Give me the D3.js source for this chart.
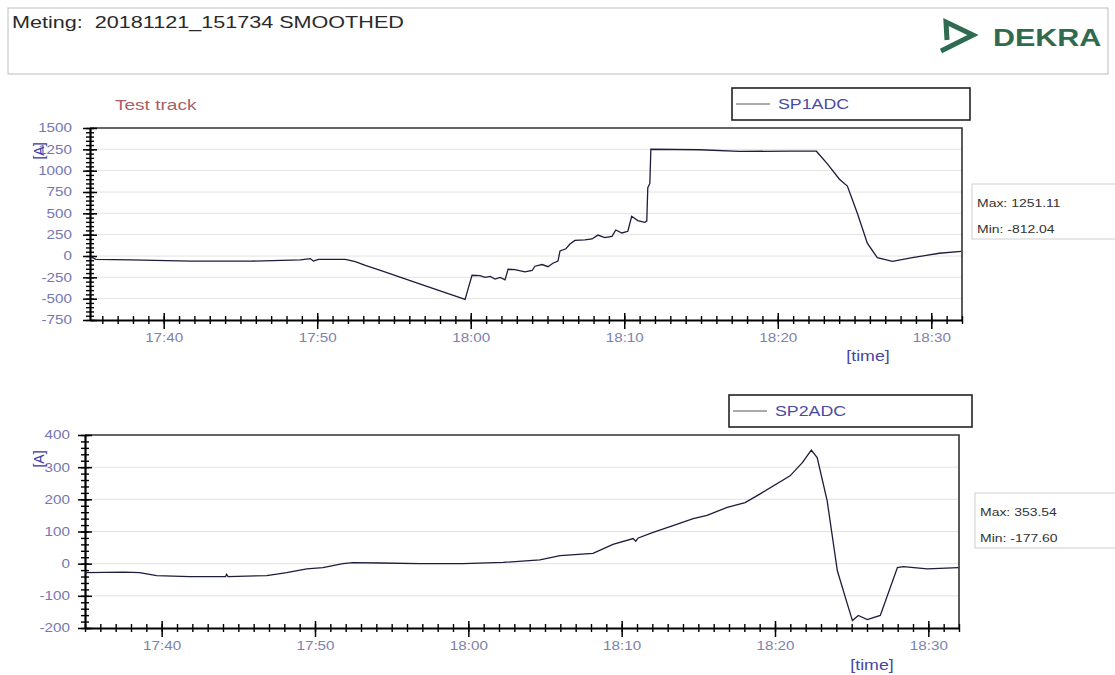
<!DOCTYPE html>
<html>
<head>
<meta charset="utf-8">
<script src="https://d3js.org/d3.v7.min.js"></script>
<style>
  body { margin: 0; background: #fff; }
  svg text { font-family: "Liberation Sans", Arial, sans-serif; white-space: pre; }
</style>
</head>
<body>
<div id="chart"></div>
<script>
  // time stamps and values
  const sp1Times = ["17:35:15","17:35:35","17:37:51","17:41:46","17:45:40","17:48:54","17:49:33","17:49:45","17:50:05",
    "17:51:23","17:51:50","17:52:29","17:53:08","17:54:07","17:56:43","17:59:38","17:59:50","18:00:05","18:00:36",
    "18:00:56","18:01:16","18:01:35","18:01:55","18:02:14","18:02:26","18:02:53","18:03:32","18:04:00","18:04:11",
    "18:04:39","18:05:02","18:05:21","18:05:41","18:05:49","18:06:12","18:06:28","18:06:47","18:07:26","18:07:54",
    "18:08:17","18:08:44","18:09:12","18:09:27","18:09:51","18:10:14","18:10:29","18:10:53","18:11:20","18:11:28",
    "18:11:32","18:11:40","18:11:44","18:14:55","18:17:31","18:20:46","18:22:31","18:23:14","18:24:01","18:24:32",
    "18:25:11","18:25:50","18:26:29","18:27:28","18:28:46","18:30:31","18:31:57"];
  const sp1Values = [-10, -40, -45, -60, -60, -45, -30, -60, -40,
    -40, -40, -65, -110, -168, -330, -508, -382, -226, -230,
    -250, -240, -270, -250, -280, -155, -160, -185, -170, -120,
    -100, -125, -85, -60, 60, 85, 140, 183, 190, 200,
    245, 215, 230, 305, 270, 290, 465, 415, 395, 410,
    800, 850, 1251, 1245, 1225, 1230, 1228, 1080, 900, 820,
    500, 150, -20, -62, -20, 32, 55];

  const sp2Times = ["17:35:00","17:37:35","17:38:34","17:39:40","17:41:50","17:44:10","17:44:14","17:44:20","17:46:51",
    "17:48:09","17:49:28","17:50:31","17:51:49","17:52:28","17:54:14","17:56:50","17:59:39","18:02:16","18:04:40",
    "18:05:59","18:08:08","18:09:26","18:10:45","18:10:55","18:11:05","18:12:03","18:13:21","18:14:40","18:15:34",
    "18:16:53","18:18:03","18:19:02","18:20:59","18:21:47","18:22:22","18:22:45","18:23:24","18:24:04","18:24:43",
    "18:25:03","18:25:26","18:26:01","18:26:52","18:27:59","18:28:22","18:29:56","18:31:58"];
  const sp2Values = [-28, -26, -28, -37, -40, -40, -33, -40, -37,
    -28, -16, -12, 0, 3, 2, 0, 0, 4, 12,
    25, 32, 60, 78, 70, 80, 97, 118, 140, 150,
    175, 190, 217, 273, 314, 353, 330, 196, -22, -125,
    -177, -161, -174, -161, -12, -9, -16, -12];

  const sp1YTicks = [-750, -500, -250, 0, 250, 500, 750, 1000, 1250, 1500];
  const sp2YTicks = [-200, -100, 0, 100, 200, 300, 400];
  const timeTicks = ["17:40:00", "17:50:00", "18:00:00", "18:10:00", "18:20:00", "18:30:00"];

  const parse = d3.timeParse("%H:%M:%S");
  const SX = 1.27; // the source picture is stretched horizontally

  const svg = d3.select("#chart").append("svg")
    .attr("width", 1115)
    .attr("height", 675);

  function txt(g, x, y, s, size, color, anchor, weight) {
    return g.append("text")
      .attr("transform", `translate(${x},${y}) scale(${SX},1)`)
      .attr("text-anchor", anchor || "start")
      .style("font-size", size + "px")
      .style("font-weight", weight || "normal")
      .style("fill", color)
      .text(s);
  }

  // header
  svg.append("rect")
    .attr("x", 8).attr("y", 8).attr("width", 1100).attr("height", 66)
    .attr("fill", "none").attr("stroke", "#bdbdbd");
  txt(svg, 12, 28, "Meting:  20181121_151734 SMOOTHED", 17, "#2a2a2a");
  svg.append("path")
    .attr("d", "M947,40 L946,22 L973,35 L941,51")
    .attr("fill", "none").attr("stroke", "#2f6b50").attr("stroke-width", 5)
    .attr("stroke-linejoin", "miter");
  txt(svg, 993, 46, "DEKRA", 24, "#2f6b50", "start", "bold");

  function drawPanel(cfg) {
    const x = d3.scaleTime().domain([parse(cfg.start), parse(cfg.end)]).range([cfg.x0, cfg.x1]);
    const y = d3.scaleLinear().domain([cfg.yTicks[0], cfg.yTicks[cfg.yTicks.length - 1]]).range([cfg.y1, cfg.y0]);
    const g = svg.append("g");

    // horizontal grid
    g.selectAll(".grid")
      .data(cfg.yTicks.slice(1, -1))
      .enter().append("line")
      .attr("x1", cfg.x0).attr("x2", cfg.x1)
      .attr("y1", d => y(d)).attr("y2", d => y(d))
      .attr("stroke", "#e2e2e2");

    // frame top + right
    g.append("path")
      .attr("d", `M${cfg.x0},${cfg.y0}H${cfg.x1}V${cfg.y1}`)
      .attr("fill", "none").attr("stroke", "#333").attr("stroke-width", 1.6);

    // minor y ticks
    const minor = d3.range(cfg.yTicks[0], cfg.yTicks[cfg.yTicks.length - 1] + 1, cfg.minorStep);
    const yMinor = g.append("g")
      .attr("transform", `translate(${cfg.x0},0)`)
      .call(d3.axisLeft(y).tickValues(minor).tickSize(4).tickSizeOuter(0).tickFormat(""));
    yMinor.selectAll(".tick line").attr("x1", 4).attr("stroke-width", 1.4);

    const yMajor = g.append("g")
      .attr("transform", `translate(${cfg.x0},0)`)
      .call(d3.axisLeft(y).tickValues(cfg.yTicks).tickSize(7).tickSizeOuter(0)
        .tickFormat(d => String(d)));
    yMajor.selectAll(".tick line").attr("x1", 7).attr("stroke-width", 1.5);
    yMajor.select(".domain").attr("stroke-width", 2.2);
    yMajor.selectAll(".tick text")
      .attr("x", cfg.labelOff / SX)
      .attr("transform", `scale(${SX},1)`)
      .style("font-size", "12px")
      .style("fill", "#7676b4");

    // x axis
    const xMinor = g.append("g")
      .attr("transform", `translate(0,${cfg.y1})`)
      .call(d3.axisBottom(x).ticks(d3.timeMinute.every(1)).tickSize(4).tickSizeOuter(0).tickFormat(""));
    xMinor.selectAll(".tick line").attr("y1", -4).attr("stroke-width", 1.4);

    const xMajor = g.append("g")
      .attr("transform", `translate(0,${cfg.y1})`)
      .call(d3.axisBottom(x).tickValues(timeTicks.map(parse))
        .tickFormat(d3.timeFormat("%H:%M")).tickSize(9).tickSizeOuter(0));
    xMajor.selectAll(".tick line").attr("y1", -7).attr("stroke-width", 1.5);
    xMajor.select(".domain").attr("stroke-width", 2.2);
    xMajor.selectAll(".tick text")
      .attr("y", 13)
      .attr("transform", `scale(${SX},1)`)
      .style("font-size", "12px")
      .style("fill", "#7c82ac");

    // trace
    const data = cfg.times.map((t, i) => ({t: parse(t), v: cfg.values[i]}));
    g.append("path")
      .datum(data)
      .attr("fill", "none")
      .attr("stroke", "#1c1c3c")
      .attr("stroke-width", 1.3)
      .attr("d", d3.line().x(d => x(d.t)).y(d => y(d.v)));

    // axis titles
    g.append("text")
      .attr("transform", `translate(${cfg.aX},${cfg.aY}) rotate(-90)`)
      .attr("text-anchor", "middle")
      .style("font-size", "14px")
      .style("fill", "#3a3aa8")
      .text("[A]");
    txt(g, cfg.timeX, cfg.timeY, "[time]", 14, "#4646a4", "middle");

    // legend
    g.append("rect")
      .attr("x", cfg.legX).attr("y", cfg.legY).attr("width", cfg.legW).attr("height", 32)
      .attr("fill", "#fff").attr("stroke", "#222").attr("stroke-width", 1.6);
    g.append("line")
      .attr("x1", cfg.legX + 4).attr("x2", cfg.legX + 38)
      .attr("y1", cfg.legY + 16).attr("y2", cfg.legY + 16)
      .attr("stroke", "#555");
    txt(g, cfg.legX + 46, cfg.legY + 21, cfg.name, 14, "#4a4aa0");

    // max / min box
    g.append("rect")
      .attr("x", cfg.statX).attr("y", cfg.statY).attr("width", 160).attr("height", 55)
      .attr("fill", "#fff").attr("stroke", "#cfcfcf");
    txt(g, cfg.statX + 5, cfg.statY + 23, cfg.maxText, 11, "#333");
    txt(g, cfg.statX + 5, cfg.statY + 49, cfg.minText, 11, "#333");
  }

  txt(svg, 115, 110, "Test track", 15, "#a86060");

  drawPanel({
    x0: 90, x1: 962, y0: 128, y1: 320,
    start: "17:35:12", end: "18:32:00",
    yTicks: sp1YTicks, minorStep: 50, labelOff: -18,
    times: sp1Times, values: sp1Values,
    aX: 44, aY: 151, timeX: 868, timeY: 361,
    name: "SP1ADC", legX: 732, legY: 88, legW: 238,
    statX: 972, statY: 184, maxText: "Max: 1251.11", minText: "Min: -812.04"
  });

  drawPanel({
    x0: 85, x1: 959, y0: 435, y1: 628,
    start: "17:35:00", end: "18:32:00",
    yTicks: sp2YTicks, minorStep: 20, labelOff: -15,
    times: sp2Times, values: sp2Values,
    aX: 44, aY: 459, timeX: 872, timeY: 670,
    name: "SP2ADC", legX: 729, legY: 395, legW: 243,
    statX: 975, statY: 493, maxText: "Max: 353.54", minText: "Min: -177.60"
  });
</script>
</body>
</html>
